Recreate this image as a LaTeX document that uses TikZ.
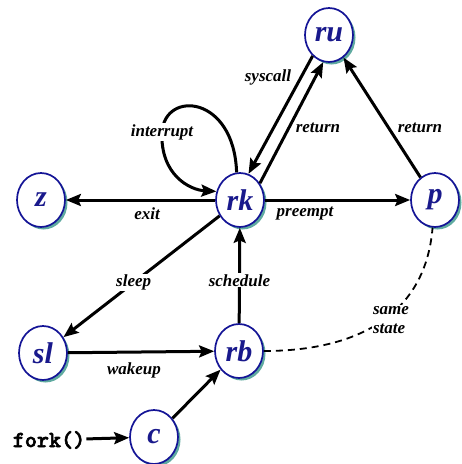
\documentclass[tikz,border=0pt]{standalone}
\usepackage{fontspec}
\setmainfont{Liberation Serif}
\newfontfamily\forkfont[BoldFont=lmmonolt10-bold.otf, BoldFeatures={FakeBold=2.5}]{lmmonolt10-bold.otf}
\usetikzlibrary{shapes.geometric,arrows.meta,shadows}
\definecolor{nodeblue}{RGB}{20,20,150}
\definecolor{textblue}{RGB}{25,25,140}
\definecolor{shadowteal}{RGB}{95,170,160}
\begin{document}
\begin{tikzpicture}[x=1pt,y=-1pt,
  state/.style={ellipse, draw=nodeblue, line width=1.7pt, fill=white,
    minimum width=48pt, minimum height=54pt, inner sep=0pt, text=textblue,
    font=\fontsize{30}{32}\selectfont\bfseries\itshape,
    drop shadow={shadow xshift=2.5pt, shadow yshift=-2.5pt, fill=shadowteal, opacity=1}},
  arr/.style={line width=3pt, -{Stealth[length=15pt,width=12pt,inset=2.5pt]}},
  lbl/.style={font=\fontsize{17}{19}\selectfont\bfseries\itshape, inner sep=1pt},
  dashline/.style={line width=1.8pt, dash pattern=on 7pt off 5pt},
]
\useasboundingbox (0,0) rectangle (462,464);

\node[state] (ru) at (329,35) {ru};
\node[state] (rk) at (240,200) {rk};
\node[state] (z)  at (41,200)  {z};
\node[state] (p)  at (435,200) {p};
\node[state] (sl) at (43,353)  {sl};
\node[state] (rb) at (239,351) {rb};
\node[state] (c)  at (154,437) {c};
\node[font=\fontsize{23}{25}\selectfont\forkfont\bfseries, inner sep=1pt] (fork) at (49,440) {fork()};

\draw[arr] (rk) -- (z);
\draw[arr] (rk) -- (p);
\draw[arr] (p) -- (ru);
\draw[arr] (ru.232) -- (rk.72);
\draw[arr] (rk.40) -- (ru.258);
\draw[arr] (rk.97) .. controls (234,95) and (165,90) .. (162,132)
  node[lbl, fill=white] {interrupt}
  .. controls (160,175) and (190,190) .. (rk.160);
\draw[arr] (rk) -- node[lbl, fill=white, pos=0.55] {sleep} (sl);
\draw[arr] (rb) -- node[lbl, fill=white, pos=0.45] {schedule} (rk);
\draw[arr] (sl) -- (rb);
\draw[arr] (c) -- (rb);
\draw[arr] (fork) -- (c);
\draw[dashline] (rb.east) .. controls (350,351) and (425,320) .. (p.265);

\node[lbl] (lexit) at (147,214) {exit};
\node[lbl] (lpre) at (305,214) {preempt};
\node[lbl] (lwake) at (134,370) {wakeup};
\node[lbl] (lsys) at (268,77) {syscall};
\node[lbl] (lret1) at (318,128) {return};
\node[lbl] (lret2) at (420,128) {return};
\node[lbl, fill=white, align=left] (lsame) at (391,320) {same\\state};
\end{tikzpicture}
\end{document}
